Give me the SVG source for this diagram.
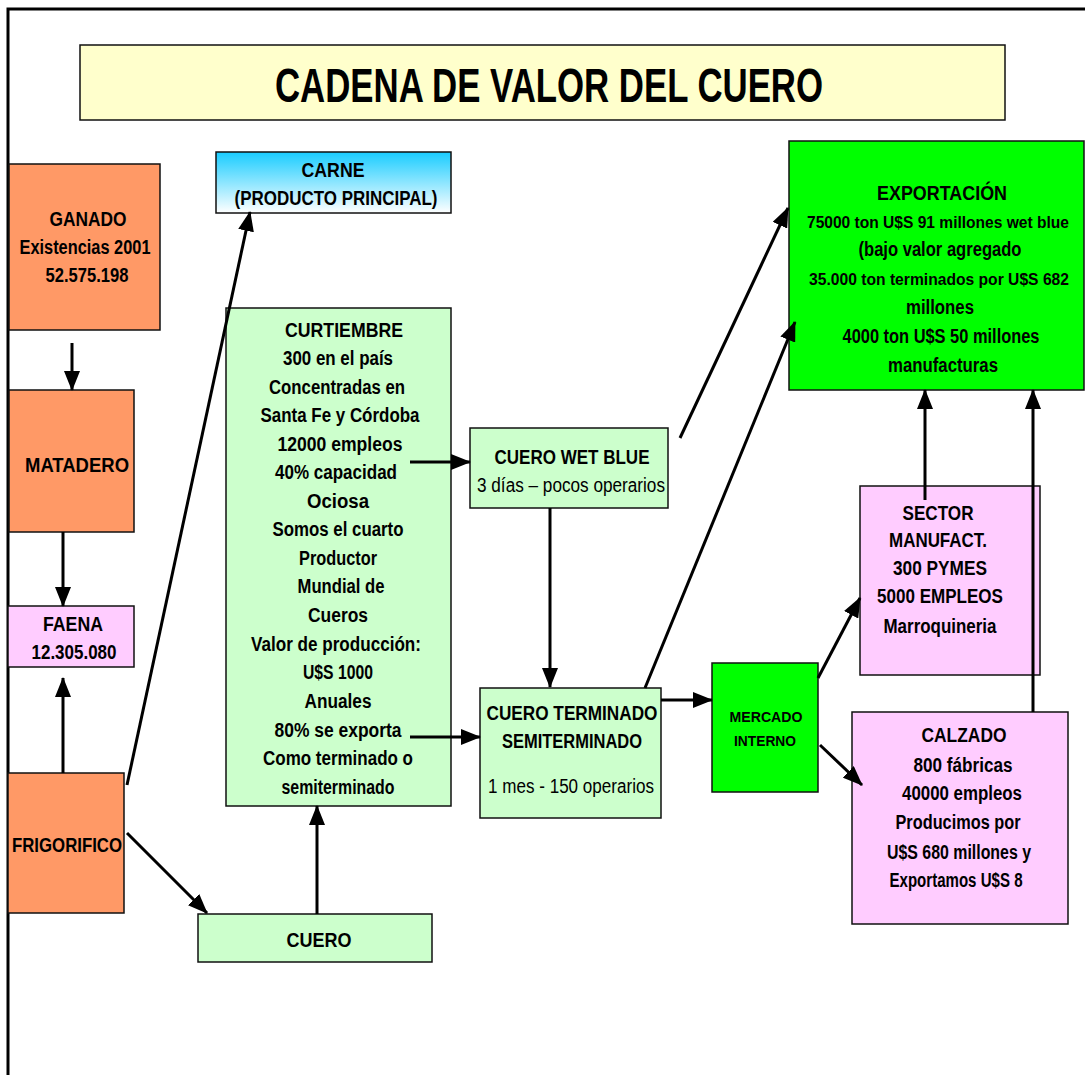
<svg xmlns="http://www.w3.org/2000/svg" width="1085" height="1075" viewBox="0 0 1085 1075">
<defs>
<linearGradient id="gCarne" x1="0" y1="0" x2="0" y2="1">
<stop offset="0" stop-color="#19CCFF"/>
<stop offset="1" stop-color="#FFFFFF"/>
</linearGradient>
<marker id="ah" viewBox="0 0 20 16" refX="19" refY="8" markerWidth="20" markerHeight="16" markerUnits="userSpaceOnUse" orient="auto">
<path d="M0,0 L20,8 L0,16 z" fill="#000"/>
</marker>
</defs>
<style>
.box{stroke:#111;stroke-width:1.5}
.salmon{fill:#FF9966}
.lgreen{fill:#CCFFCC}
.pink{fill:#FFCCFF}
.green{fill:#00FF00}
text{font-family:"Liberation Sans",Arial,sans-serif;font-size:19.5px;font-weight:bold;fill:#000;text-anchor:middle}
.n{font-weight:normal}
.s{font-size:15px}
.m{font-size:16px}
.c line{stroke:#000;stroke-width:3;marker-end:url(#ah)}
</style>
<rect width="1085" height="1075" fill="#fff"/>
<path d="M8,1075 L8,9 L1085,9" fill="none" stroke="#000" stroke-width="3"/>

<g id="titulo">
<rect class="box" x="80" y="45" width="925" height="75" fill="#FFFFCC"/>
<text x="549" y="102" style="font-size:48px" textLength="548" lengthAdjust="spacingAndGlyphs">CADENA DE VALOR DEL CUERO</text>
</g>

<g id="carne">
<rect class="box" x="216" y="152" width="235" height="61" fill="url(#gCarne)"/>
<text x="333" y="177" textLength="63" lengthAdjust="spacingAndGlyphs">CARNE</text>
<text x="336" y="205" textLength="203" lengthAdjust="spacingAndGlyphs">(PRODUCTO PRINCIPAL)</text>
</g>

<g id="ganado">
<rect class="box salmon" x="9" y="164" width="151" height="166"/>
<text x="88" y="226" textLength="77" lengthAdjust="spacingAndGlyphs">GANADO</text>
<text x="85" y="254" textLength="131" lengthAdjust="spacingAndGlyphs">Existencias 2001</text>
<text x="87" y="282" textLength="83" lengthAdjust="spacingAndGlyphs">52.575.198</text>
</g>

<g id="matadero">
<rect class="box salmon" x="9" y="390" width="125" height="142"/>
<text x="77" y="472" textLength="104" lengthAdjust="spacingAndGlyphs">MATADERO</text>
</g>

<g id="faena">
<rect class="box pink" x="8" y="606" width="126" height="61"/>
<text x="73" y="631" textLength="60" lengthAdjust="spacingAndGlyphs">FAENA</text>
<text x="74" y="659" textLength="85" lengthAdjust="spacingAndGlyphs">12.305.080</text>
</g>

<g id="frigorifico">
<rect class="box salmon" x="8" y="773" width="116" height="140"/>
<text x="67" y="852" textLength="110" lengthAdjust="spacingAndGlyphs">FRIGORIFICO</text>
</g>

<g id="cuero">
<rect class="box lgreen" x="198" y="914" width="234" height="48"/>
<text x="319" y="947" textLength="65" lengthAdjust="spacingAndGlyphs">CUERO</text>
</g>

<g id="curtiembre">
<rect class="box lgreen" x="226" y="308" width="225" height="498"/>
<text x="344" y="337" textLength="118" lengthAdjust="spacingAndGlyphs">CURTIEMBRE</text>
<text x="338" y="365" textLength="110" lengthAdjust="spacingAndGlyphs">300 en el país</text>
<text x="337" y="394" textLength="136" lengthAdjust="spacingAndGlyphs">Concentradas en</text>
<text x="340" y="422" textLength="159" lengthAdjust="spacingAndGlyphs">Santa Fe y Córdoba</text>
<text x="340" y="451" textLength="125" lengthAdjust="spacingAndGlyphs">12000 empleos</text>
<text x="336" y="479" textLength="122" lengthAdjust="spacingAndGlyphs">40% capacidad</text>
<text x="338" y="508" textLength="62" lengthAdjust="spacingAndGlyphs">Ociosa</text>
<text x="338" y="536" textLength="131" lengthAdjust="spacingAndGlyphs">Somos el cuarto</text>
<text x="338" y="565" textLength="78" lengthAdjust="spacingAndGlyphs">Productor</text>
<text x="341" y="593" textLength="87" lengthAdjust="spacingAndGlyphs">Mundial de</text>
<text x="338" y="622" textLength="60" lengthAdjust="spacingAndGlyphs">Cueros</text>
<text x="336" y="651" textLength="170" lengthAdjust="spacingAndGlyphs">Valor de producción:</text>
<text x="338" y="679" textLength="70" lengthAdjust="spacingAndGlyphs">U$S 1000</text>
<text x="338" y="708" textLength="67" lengthAdjust="spacingAndGlyphs">Anuales</text>
<text x="338" y="737" textLength="127" lengthAdjust="spacingAndGlyphs">80% se exporta</text>
<text x="338" y="765" textLength="150" lengthAdjust="spacingAndGlyphs">Como terminado o</text>
<text x="338" y="794" textLength="113" lengthAdjust="spacingAndGlyphs">semiterminado</text>
</g>

<g id="wetblue">
<rect class="box lgreen" x="470" y="428" width="198" height="80"/>
<text x="572" y="464" textLength="155" lengthAdjust="spacingAndGlyphs">CUERO WET BLUE</text>
<text class="n" x="571" y="492" textLength="188" lengthAdjust="spacingAndGlyphs">3 días – pocos operarios</text>
</g>

<g id="terminado">
<rect class="box lgreen" x="480" y="688" width="181" height="130"/>
<text x="572" y="720" textLength="171" lengthAdjust="spacingAndGlyphs">CUERO TERMINADO</text>
<text x="572" y="748" textLength="140" lengthAdjust="spacingAndGlyphs">SEMITERMINADO</text>
<text class="n" x="571" y="793" textLength="166" lengthAdjust="spacingAndGlyphs">1 mes - 150 operarios</text>
</g>

<g id="mercado">
<rect class="box green" x="712" y="663" width="106" height="129"/>
<text class="s" x="766" y="722" textLength="73" lengthAdjust="spacingAndGlyphs">MERCADO</text>
<text class="s" x="765" y="746" textLength="62" lengthAdjust="spacingAndGlyphs">INTERNO</text>
</g>

<g id="exportacion">
<rect class="box green" x="789" y="141" width="295" height="249"/>
<text x="942" y="200" textLength="130" lengthAdjust="spacingAndGlyphs">EXPORTACIÓN</text>
<text class="m" x="938" y="228" textLength="262" lengthAdjust="spacingAndGlyphs">75000 ton U$S 91 millones wet blue</text>
<text x="940" y="256" textLength="163" lengthAdjust="spacingAndGlyphs">(bajo valor agregado</text>
<text class="m" x="939" y="285" textLength="260" lengthAdjust="spacingAndGlyphs">35.000 ton terminados por U$S 682</text>
<text x="940" y="314" textLength="68" lengthAdjust="spacingAndGlyphs">millones</text>
<text x="941" y="343" textLength="197" lengthAdjust="spacingAndGlyphs">4000 ton U$S 50 millones</text>
<text x="943" y="372" textLength="110" lengthAdjust="spacingAndGlyphs">manufacturas</text>
</g>

<g id="sector">
<rect class="box pink" x="860" y="486" width="180" height="189"/>
<text x="938" y="520" textLength="71" lengthAdjust="spacingAndGlyphs">SECTOR</text>
<text x="938" y="547" textLength="98" lengthAdjust="spacingAndGlyphs">MANUFACT.</text>
<text x="940" y="575" textLength="94" lengthAdjust="spacingAndGlyphs">300 PYMES</text>
<text x="940" y="603" textLength="126" lengthAdjust="spacingAndGlyphs">5000 EMPLEOS</text>
<text x="940" y="633" textLength="113" lengthAdjust="spacingAndGlyphs">Marroquineria</text>
</g>

<g id="calzado">
<rect class="box pink" x="852" y="712" width="216" height="212"/>
<text x="964" y="742" textLength="85" lengthAdjust="spacingAndGlyphs">CALZADO</text>
<text x="963" y="772" textLength="99" lengthAdjust="spacingAndGlyphs">800 fábricas</text>
<text x="962" y="800" textLength="120" lengthAdjust="spacingAndGlyphs">40000 empleos</text>
<text x="958" y="829" textLength="125" lengthAdjust="spacingAndGlyphs">Producimos por</text>
<text x="959" y="859" textLength="144" lengthAdjust="spacingAndGlyphs">U$S 680 millones y</text>
<text x="956" y="887" textLength="133" lengthAdjust="spacingAndGlyphs">Exportamos U$S 8</text>
</g>

<g id="conectores" class="c">
<line x1="72" y1="343" x2="72" y2="390"/>
<line x1="63" y1="532" x2="63" y2="606"/>
<line x1="63" y1="773" x2="63" y2="678"/>
<line x1="127" y1="785" x2="250" y2="212"/>
<line x1="127" y1="833" x2="207" y2="913"/>
<line x1="317" y1="914" x2="317" y2="806"/>
<line x1="410" y1="462" x2="470" y2="462"/>
<line x1="410" y1="737" x2="480" y2="737"/>
<line x1="550" y1="508" x2="550" y2="687"/>
<line x1="680" y1="438" x2="788" y2="208"/>
<line x1="645" y1="688" x2="795" y2="322"/>
<line x1="661" y1="700" x2="712" y2="700"/>
<line x1="818" y1="678" x2="860" y2="598"/>
<line x1="820" y1="745" x2="862" y2="785"/>
<line x1="925" y1="500" x2="925" y2="390"/>
<line x1="1033" y1="712" x2="1033" y2="390"/>
</g>
</svg>
